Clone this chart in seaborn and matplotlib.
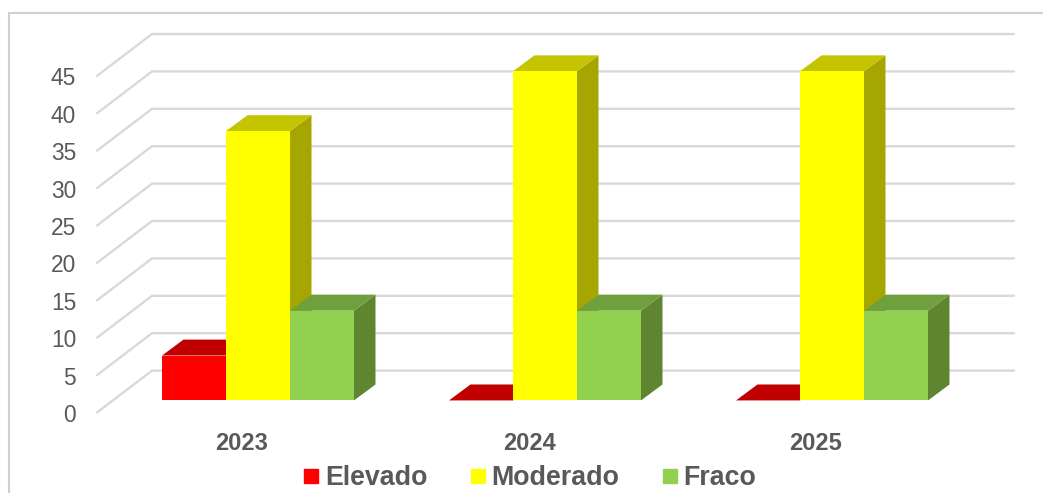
import matplotlib
matplotlib.use("Agg")
import matplotlib.pyplot as plt
from matplotlib.lines import Line2D
from matplotlib.patches import Polygon
import pandas as pd
import seaborn as sns

years = ["2023", "2024", "2025"]
levels = ["Elevado", "Moderado", "Fraco"]
elevado = [6, 0, 0]
moderado = [36, 44, 44]
fraco = [12, 12, 12]
y_ticks = [0, 5, 10, 15, 20, 25, 30, 35, 40, 45]

front_colors = ["#ff0000", "#ffff00", "#92d050"]
top_colors = ["#c00000", "#c4c400", "#709f3e"]
side_colors = ["#a00000", "#a6a600", "#5f8531"]
grid_color = "#d9d9d9"
text_color = "#595959"
frame_color = "#d0d0d0"

W, H = 1043, 493
PX_PER_CAT = 287.0
PX_PER_UNIT = 7.5
X0_PX, Y0_PX = 258.0, 401.4   # pixel of category 0 / value 0 on the bar plane

def xd(px):
    return px / PX_PER_CAT

def yd(px):
    return px / PX_PER_UNIT

sns.set_theme(style="white")
plt.rcParams["font.family"] = ["Liberation Sans", "DejaVu Sans"]

fig = plt.figure(figsize=(W / 100, H / 100), dpi=100)
L, R, T, B = 97, 1014, 34, 413
ax = fig.add_axes([L / W, 1 - B / H, (R - L) / W, (B - T) / H])

df = pd.DataFrame({
    "ano": years * 3,
    "nivel": [n for n in levels for _ in years],
    "valor": elevado + moderado + fraco,
})
sns.barplot(data=df, x="ano", y="valor", hue="nivel", hue_order=levels,
            palette=front_colors, width=0.669, gap=0, saturation=1,
            linewidth=0, ax=ax, legend=False, zorder=5)

ax.set_xlim((L - X0_PX) / PX_PER_CAT, (R - X0_PX) / PX_PER_CAT)
ax.set_ylim((Y0_PX - B) / PX_PER_UNIT, (Y0_PX - T) / PX_PER_UNIT)

# gridlines: back wall plus receding left wall
back_dy = yd(Y0_PX - 371.5)
for v in y_ticks:
    yb = v + back_dy
    ax.plot([ax.get_xlim()[0], ax.get_xlim()[0] + xd(55), ax.get_xlim()[1]],
            [yb - yd(42), yb, yb], color=grid_color, lw=1.7, zorder=1,
            clip_on=False, solid_joinstyle="miter")

# 3-D depth faces of each bar
dx, dy = xd(21.5), yd(16)
for k, container in enumerate(ax.containers):
    for bar in container:
        x0, w, h = bar.get_x(), bar.get_width(), bar.get_height()
        x1 = x0 + w
        ax.add_patch(Polygon([(x1, 0), (x1 + dx, dy), (x1 + dx, h + dy), (x1, h)],
                             closed=True, fc=side_colors[k], ec="none",
                             zorder=3 + k * 0.1, clip_on=False))
        ax.add_patch(Polygon([(x0, h), (x1, h), (x1 + dx, h + dy), (x0 + dx, h + dy)],
                             closed=True, fc=top_colors[k], ec="none",
                             zorder=3.05 + k * 0.1, clip_on=False))

# axis text
ax.set_yticks([v - yd(12.6) for v in y_ticks])
ax.set_yticklabels([str(v) for v in y_ticks], fontsize=16.4, color=text_color)
ax.set_xticks([i - xd(16) for i in range(len(years))])
ax.set_xticklabels(years, fontsize=17, fontweight="bold", color=text_color)
ax.tick_params(axis="y", length=0, pad=15)
ax.tick_params(axis="x", length=0, pad=14)
ax.set_xlabel("")
ax.set_ylabel("")
for s in ax.spines.values():
    s.set_visible(False)
ax.patch.set_alpha(0)

# legend
handles = [Line2D([], [], marker="s", ls="none", ms=9.8, mfc=c, mec=c) for c in front_colors]
fig.legend(handles, levels, loc="center", bbox_to_anchor=(520.5 / W, 1 - 478 / H),
           ncol=3, frameon=False, prop={"size": 19.3, "weight": "bold"},
           labelcolor=text_color, handletextpad=-0.5, columnspacing=0.9,
           borderpad=0, borderaxespad=0)

# chart-area frame
fig.add_artist(Line2D([8.5 / W, 8.5 / W, 1], [0, 1 - 13 / H, 1 - 13 / H],
                      color=frame_color, lw=1.5, solid_joinstyle="miter"))

fig.savefig("out.png", dpi=100)
